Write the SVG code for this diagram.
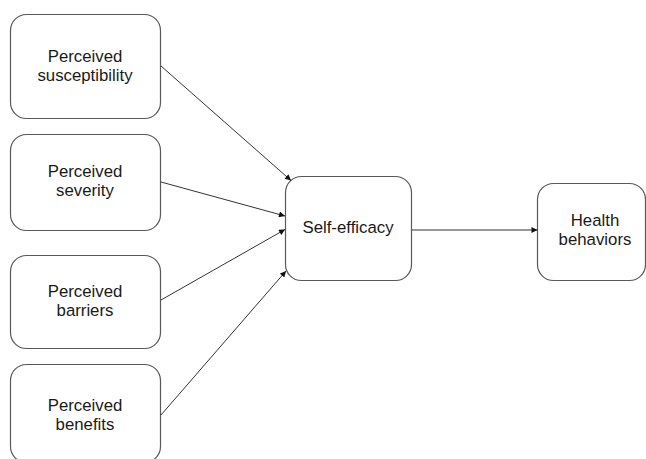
<svg xmlns="http://www.w3.org/2000/svg" width="646" height="459" viewBox="0 0 646 459">
<style>
.box{fill:#fff;stroke:#595959;stroke-width:1.2}
.lbl{font-family:"Liberation Sans",Arial,sans-serif;font-size:16.8px;fill:#1a1a1a;text-anchor:middle}
.edge{stroke:#333;stroke-width:1;fill:none;marker-end:url(#ah)}
</style>
<defs>
<marker id="ah" viewBox="0 0 10 10" refX="10" refY="5" markerWidth="7" markerHeight="6" markerUnits="userSpaceOnUse" orient="auto">
<path d="M0,0 L10,5 L0,10 z" fill="#111"/>
</marker>
</defs>
<rect width="646" height="459" fill="#fff"/>
<g id="n1"><rect class="box" x="10.5" y="14.5" width="150" height="104" rx="16"/><text class="lbl" x="85" y="62">Perceived</text><text class="lbl" x="85" y="81">susceptibility</text></g>
<g id="n2"><rect class="box" x="10.5" y="134.5" width="150" height="96" rx="16"/><text class="lbl" x="85" y="177">Perceived</text><text class="lbl" x="85" y="196">severity</text></g>
<g id="n3"><rect class="box" x="10.5" y="255.5" width="150" height="93" rx="16"/><text class="lbl" x="85" y="297">Perceived</text><text class="lbl" x="85" y="316">barriers</text></g>
<g id="n4"><rect class="box" x="10.5" y="364.5" width="150" height="98" rx="16"/><text class="lbl" x="85" y="411">Perceived</text><text class="lbl" x="85" y="430">benefits</text></g>
<g id="n5"><rect class="box" x="285.5" y="176.5" width="126" height="104" rx="16"/><text class="lbl" x="348" y="233">Self-efficacy</text></g>
<g id="n6"><rect class="box" x="537.5" y="183.5" width="108" height="97" rx="16"/><text class="lbl" x="595" y="226">Health</text><text class="lbl" x="595" y="245">behaviors</text></g>
<g id="edges">
<line class="edge" x1="161" y1="66" x2="291" y2="180.5"/>
<line class="edge" x1="161" y1="182" x2="285" y2="216"/>
<line class="edge" x1="161" y1="300" x2="285" y2="229.5"/>
<line class="edge" x1="161" y1="415" x2="286" y2="271"/>
<line class="edge" x1="412" y1="230" x2="537.5" y2="230"/>
</g>
</svg>
